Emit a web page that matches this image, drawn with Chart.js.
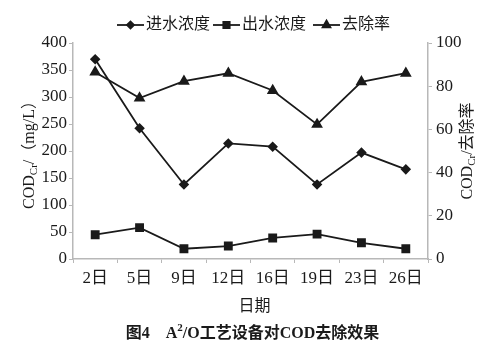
<!DOCTYPE html>
<html>
<head>
<meta charset="utf-8">
<script src="https://cdn.jsdelivr.net/npm/chart.js@4/dist/chart.umd.min.js"></script>
<style>
  html, body { margin: 0; padding: 0; background: #fff; }
  #wrap { width: 488px; height: 352px; position: relative; }
</style>
</head>
<body>
<div id="wrap"><canvas id="codChart"></canvas></div>
<script>
const days = ["2日", "5日", "9日", "12日", "16日", "19日", "23日", "26日"];
const influent = [370, 242, 138, 214, 208, 138, 197, 166];
const effluent = [45, 58, 19, 24, 39, 46, 30, 19];
const removal = [86.5, 74.5, 82.3, 86, 78, 62.3, 82, 86];
const leftTicks = [0, 50, 100, 150, 200, 250, 300, 350, 400];
const rightTicks = [0, 20, 40, 60, 80, 100];

const serif = "'Liberation Serif', 'Times New Roman', 'Noto Sans CJK SC', serif";
const ink = "#1a1a1a";
const axisGray = "#b8b8b8";

// draws legend, axis titles (with subscript) and the figure caption
const extras = {
  id: "extras",
  afterDraw(chart) {
    const ctx = chart.ctx;
    const area = chart.chartArea;
    ctx.save();
    ctx.fillStyle = ink;
    ctx.strokeStyle = ink;

    // legend
    const items = [
      { text: "进水浓度", style: "rectRot", x: 117 },
      { text: "出水浓度", style: "rect", x: 213 },
      { text: "去除率", style: "triangle", x: 313 }
    ];
    ctx.font = "16px " + serif;
    ctx.textBaseline = "middle";
    ctx.textAlign = "left";
    items.forEach(it => {
      ctx.lineWidth = 1.8;
      ctx.beginPath();
      ctx.moveTo(it.x, 25);
      ctx.lineTo(it.x + 27, 25);
      ctx.stroke();
      Chart.helpers.drawPoint(ctx, { pointStyle: it.style, radius: it.style === "rectRot" ? 3.5 : 4.5, borderWidth: 1 }, it.x + 13.5, 25);
      ctx.fill();
      ctx.fillText(it.text, it.x + 29, 25);
    });

    // rotated title with COD subscript
    function vTitle(cx, cy, tail) {
      ctx.save();
      ctx.translate(cx, cy);
      ctx.rotate(-Math.PI / 2);
      const big = "16px " + serif;
      const small = "11px " + serif;
      ctx.font = big;
      const w1 = ctx.measureText("COD").width;
      ctx.font = small;
      const w2 = ctx.measureText("Cr").width;
      ctx.font = big;
      const w3 = ctx.measureText(tail).width;
      let x = -(w1 + w2 + w3) / 2;
      ctx.textAlign = "left";
      ctx.textBaseline = "middle";
      ctx.fillText("COD", x, 0);
      x += w1;
      ctx.font = small;
      ctx.fillText("Cr", x, 4);
      x += w2;
      ctx.font = big;
      ctx.fillText(tail, x, 0);
      ctx.restore();
    }
    const cy = (area.top + area.bottom) / 2;
    vTitle(30, cy, "/（mg/L）");
    vTitle(468, cy, "/去除率");

    // x title
    const cx = (area.left + area.right) / 2;
    ctx.textAlign = "center";
    ctx.font = "16px " + serif;
    ctx.fillText("日期", cx + 4, 307);

    // caption, with a raised 2 after A
    const parts = [
      { t: "图4　A", f: "bold 16px " + serif, dy: 0 },
      { t: "2", f: "bold 11px " + serif, dy: -6 },
      { t: "/O工艺设备对COD去除效果", f: "bold 16px " + serif, dy: 0 }
    ];
    let total = 0;
    parts.forEach(p => { ctx.font = p.f; p.w = ctx.measureText(p.t).width; total += p.w; });
    let px = cx + 2 - total / 2;
    ctx.textAlign = "left";
    parts.forEach(p => {
      ctx.font = p.f;
      ctx.fillText(p.t, px, 334 + p.dy);
      px += p.w;
    });
    ctx.restore();
  }
};

const ctx = document.getElementById("codChart").getContext("2d");

new Chart(ctx, {
  type: "line",
  data: {
    labels: days,
    datasets: [
      {
        label: "进水浓度",
        data: influent,
        yAxisID: "y",
        borderColor: ink,
        backgroundColor: ink,
        borderWidth: 1.8,
        pointStyle: "rectRot",
        pointRadius: 4,
        tension: 0
      },
      {
        label: "出水浓度",
        data: effluent,
        yAxisID: "y",
        borderColor: ink,
        backgroundColor: ink,
        borderWidth: 1.8,
        pointStyle: "rect",
        pointRadius: 5,
        tension: 0
      },
      {
        label: "去除率",
        data: removal,
        yAxisID: "y1",
        borderColor: ink,
        backgroundColor: ink,
        borderWidth: 1.8,
        pointStyle: "triangle",
        pointRadius: 5,
        tension: 0
      }
    ]
  },
  options: {
    responsive: true,
    maintainAspectRatio: false,
    animation: false,
    layout: { padding: { top: 43, left: 0, right: 0, bottom: 0 } },
    plugins: {
      legend: { display: false },
      tooltip: { enabled: false }
    },
    scales: {
      x: {
        offset: true,
        grid: {
          display: true,
          offset: true,
          drawOnChartArea: false,
          drawTicks: true,
          tickLength: 4,
          color: axisGray
        },
        border: { display: true, color: axisGray, width: 1.5 },
        ticks: { color: ink, font: { family: serif, size: 17 }, padding: 5, maxRotation: 0, autoSkip: false },
        afterFit: s => { s.height = 93; }
      },
      y: {
        position: "left",
        min: 0,
        max: 400,
        afterBuildTicks: s => { s.ticks = leftTicks.map(v => ({ value: v })); },
        grid: {
          display: true,
          drawOnChartArea: false,
          drawTicks: true,
          tickLength: 4,
          color: axisGray
        },
        border: { display: true, color: axisGray, width: 1.5 },
        ticks: { color: ink, font: { family: serif, size: 17 }, padding: 2 },
        afterFit: s => { s.width = 73; }
      },
      y1: {
        position: "right",
        min: 0,
        max: 100,
        afterBuildTicks: s => { s.ticks = rightTicks.map(v => ({ value: v })); },
        grid: {
          display: true,
          drawOnChartArea: false,
          drawTicks: true,
          tickLength: 4,
          color: axisGray
        },
        border: { display: true, color: axisGray, width: 1.5 },
        ticks: { color: ink, font: { family: serif, size: 17 }, padding: 4 },
        afterFit: s => { s.width = 60; }
      }
    }
  },
  plugins: [extras]
});
</script>
</body>
</html>
